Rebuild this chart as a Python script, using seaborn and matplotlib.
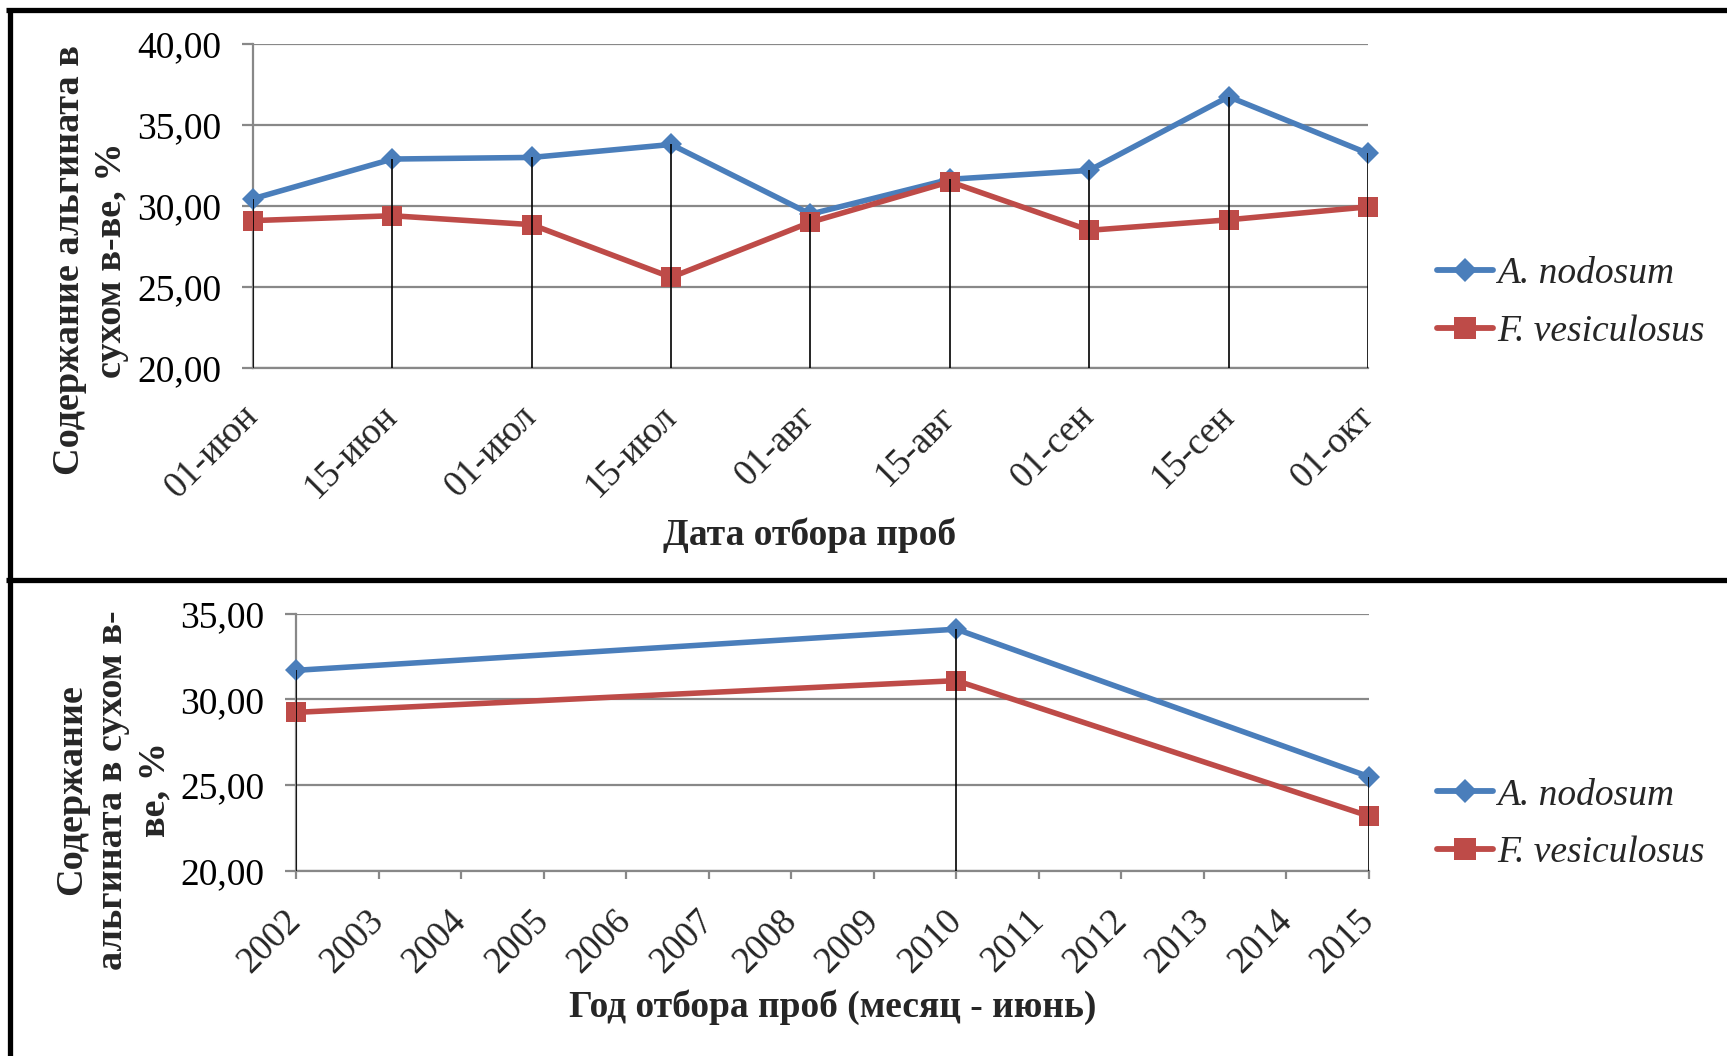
import numpy as np
import pandas as pd
import matplotlib
matplotlib.use("Agg")
import matplotlib.pyplot as plt
from matplotlib.lines import Line2D
from matplotlib.ticker import FuncFormatter, MultipleLocator, FixedLocator
from matplotlib.font_manager import FontProperties
import seaborn as sns

# ---- data ----
dates = ['01-июн', '15-июн', '01-июл', '15-июл', '01-авг',
         '15-авг', '01-сен', '15-сен', '01-окт']
nodosum_season = [30.45, 32.9, 33.0, 33.8, 29.5, 31.65, 32.2, 36.75, 33.25]
vesic_season = [29.1, 29.4, 28.85, 25.6, 29.0, 31.5, 28.5, 29.15, 29.95]

years = [2002, 2010, 2015]
nodosum_years = [31.7, 34.1, 25.5]
vesic_years = [29.25, 31.1, 23.2]
year_ticks = list(range(2002, 2016))

species = ['A. nodosum', 'F. vesiculosus']
colors = {'A. nodosum': '#4A7EBB', 'F. vesiculosus': '#BE4B48'}
markers = {'A. nodosum': 'D', 'F. vesiculosus': 's'}
msize = {'A. nodosum': 11.5, 'F. vesiculosus': 15}

season_df = pd.DataFrame({
    'pos': list(range(len(dates))) * 2,
    'value': nodosum_season + vesic_season,
    'species': [species[0]] * len(dates) + [species[1]] * len(dates),
})
years_df = pd.DataFrame({
    'year': years * 2,
    'value': nodosum_years + vesic_years,
    'species': [species[0]] * len(years) + [species[1]] * len(years),
})

# ---- style ----
sns.set_theme(style='white')
plt.rcParams['font.family'] = ['Liberation Serif', 'DejaVu Serif']
GRID = '#888888'
SERIF = 'Liberation Serif'

fig = plt.figure(figsize=(17.27, 10.56), dpi=100)
ax1 = fig.add_axes([0.1465, 0.6515, 0.6456, 0.3068])
ax2 = fig.add_axes([0.1714, 0.1752, 0.6213, 0.2436])


def comma_fmt(v, _):
    return f'{v:.2f}'.replace('.', ',')


def draw_series(ax, df, xcol):
    for sp in species:
        sub = df[df['species'] == sp]
        sns.lineplot(data=sub, x=xcol, y='value', color=colors[sp],
                     marker=markers[sp], markersize=msize[sp],
                     markeredgewidth=0, lw=4.0, sort=False, clip_on=False,
                     ax=ax, legend=False, zorder=3)


def style_axes(ax, ylim):
    ax.set_ylim(*ylim)
    ax.yaxis.set_major_locator(MultipleLocator(5))
    ax.yaxis.set_major_formatter(FuncFormatter(comma_fmt))
    ax.yaxis.grid(True, color=GRID, lw=1.6)
    ax.xaxis.grid(False)
    for s in ['top', 'right']:
        ax.spines[s].set_visible(False)
    for s in ['left', 'bottom']:
        ax.spines[s].set_color(GRID)
        ax.spines[s].set_linewidth(1.6)
    ax.tick_params(axis='y', which='major', left=True, length=8, width=1.6,
                   color=GRID, pad=15, labelsize=27, labelcolor='black')
    ax.set_xlabel('')
    ax.set_ylabel('')
    ax.set_facecolor('white')


# ---- top chart: seasonal dynamics ----
draw_series(ax1, season_df, 'pos')
pos = np.arange(len(dates))
ax1.vlines(pos, 20, np.maximum(nodosum_season, vesic_season),
           color='black', lw=1.2, zorder=4)
style_axes(ax1, (20, 40))
ax1.set_xlim(0, len(dates) - 1)
ax1.xaxis.set_major_locator(FixedLocator(pos))
ax1.set_xticklabels(dates)
ax1.tick_params(axis='x', bottom=True, length=0, pad=31, labelsize=26.5)
for lab in ax1.get_xticklabels():
    lab.set_rotation(45)
    lab.set_rotation_mode('anchor')
    lab.set_ha('right')
    lab.set_va('center')

# ---- bottom chart: inter-annual dynamics ----
draw_series(ax2, years_df, 'year')
ax2.vlines(years, 20, np.maximum(nodosum_years, vesic_years),
           color='black', lw=1.2, zorder=4)
style_axes(ax2, (20, 35))
ax2.set_xlim(year_ticks[0], year_ticks[-1])
ax2.xaxis.set_major_locator(FixedLocator(year_ticks))
ax2.set_xticklabels([str(y) for y in year_ticks])
ax2.tick_params(axis='x', bottom=True, length=6, width=1.6, color=GRID,
                pad=26, labelsize=26.5)
for lab in ax2.get_xticklabels():
    lab.set_rotation(45)
    lab.set_rotation_mode('anchor')
    lab.set_ha('right')
    lab.set_va('center')

# ---- axis titles ----
fig.text(0.0524, 0.7538, 'Содержание альгината в\nсухом в-ве, %',
         rotation=90, ha='center', va='center', multialignment='center',
         fontsize=27.5, fontweight='bold', family=SERIF, linespacing=1.25)
fig.text(0.0654, 0.252, 'Содержание\nальгината в сухом в-\nве, %',
         rotation=90, ha='center', va='center', multialignment='center',
         fontsize=27.5, fontweight='bold', family=SERIF, linespacing=1.25)
fig.text(0.469, 0.4934, 'Дата отбора проб', ha='center', va='center',
         fontsize=27, fontweight='bold', family=SERIF)
fig.text(0.4823, 0.0464, 'Год отбора проб (месяц - июнь)', ha='center',
         va='center', fontsize=27, fontweight='bold', family=SERIF)

# ---- legends ----
handles = [Line2D([], [], color=colors[sp], marker=markers[sp],
                  markersize=msize[sp] * 1.05, markeredgewidth=0, lw=4.2)
           for sp in species]
leg_font = FontProperties(family=SERIF, style='italic', size=27)
for ycen in (0.7130, 0.2195):
    fig.legend(handles, species, loc='center left',
               bbox_to_anchor=(0.832, ycen), frameon=False, prop=leg_font,
               handlelength=1.5, handletextpad=0.1, labelspacing=0.62,
               borderpad=0, borderaxespad=0)

# ---- panel frames ----
frame_kw = dict(color='black', lw=3.8, transform=fig.transFigure,
                solid_capstyle='butt')
fig.add_artist(Line2D([0.0035, 1.0], [0.9905, 0.9905], **frame_kw))
fig.add_artist(Line2D([0.0058, 0.0058], [0.9925, 0.0], **frame_kw))
fig.add_artist(Line2D([0.0035, 1.0], [0.4508, 0.4508], **frame_kw))

fig.savefig('out.png', dpi=100, facecolor='white')
